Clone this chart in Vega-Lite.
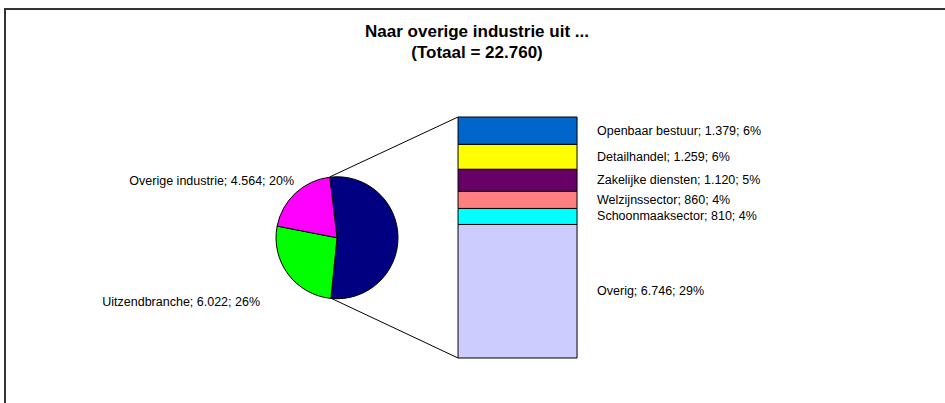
{
  "$schema": "https://vega.github.io/schema/vega-lite/v6.json",
  "width": 940,
  "height": 394,
  "autosize": "none",
  "padding": {"left": 5, "top": 9, "right": 0, "bottom": 0},
  "background": "white",
  "title": {
    "text": ["Naar overige industrie uit ...", "(Totaal = 22.760)"],
    "font": "Liberation Sans",
    "fontSize": 17,
    "fontWeight": "bold",
    "color": "#000000",
    "lineHeight": 21,
    "anchor": "middle",
    "frame": "group",
    "offset": 0,
    "dx": 2,
    "dy": 53
  },
  "config": {
    "view": {"stroke": "#333333", "strokeWidth": 2, "strokeDash": [940, 1334, 400]},
    "font": "Liberation Sans",
    "text": {"font": "Liberation Sans", "fontSize": 12.5, "color": "#000000"}
  },
  "datasets": {
    "taart": [
      {"nr": 1, "sector": "Overige sectoren", "aantal": 12174, "label": "Overige sectoren; 12.174; 53%"},
      {"nr": 2, "sector": "Uitzendbranche", "aantal": 6022, "label": "Uitzendbranche; 6.022; 26%"},
      {"nr": 3, "sector": "Overige industrie", "aantal": 4564, "label": "Overige industrie; 4.564; 20%"}
    ],
    "staaf": [
      {"nr": 1, "sector": "Overig", "aantal": 6746, "label": "Overig; 6.746; 29%"},
      {"nr": 2, "sector": "Schoonmaaksector", "aantal": 810, "label": "Schoonmaaksector; 810; 4%"},
      {"nr": 3, "sector": "Welzijnssector", "aantal": 860, "label": "Welzijnssector; 860; 4%"},
      {"nr": 4, "sector": "Zakelijke diensten", "aantal": 1120, "label": "Zakelijke diensten; 1.120; 5%"},
      {"nr": 5, "sector": "Detailhandel", "aantal": 1259, "label": "Detailhandel; 1.259; 6%"},
      {"nr": 6, "sector": "Openbaar bestuur", "aantal": 1379, "label": "Openbaar bestuur; 1.379; 6%"}
    ]
  },
  "layer": [
    {
      "data": {"values": [{}]},
      "mark": {"type": "rule", "color": "#000000", "strokeWidth": 1},
      "encoding": {
        "x": {"datum": -1.077, "type": "quantitative", "axis": null, "scale": {"domain": [-3.807, 4.092], "nice": false, "zero": false}},
        "y": {"datum": 9149, "type": "quantitative", "axis": null, "scale": {"domain": [-2273, 17630], "nice": false, "zero": false}},
        "x2": {"datum": 0},
        "y2": {"datum": 12174}
      }
    },
    {
      "data": {"values": [{}]},
      "mark": {"type": "rule", "color": "#000000", "strokeWidth": 1},
      "encoding": {
        "x": {"datum": -1.068, "type": "quantitative"},
        "y": {"datum": 3021, "type": "quantitative"},
        "x2": {"datum": 0},
        "y2": {"datum": 0}
      }
    },
    {
      "data": {"name": "taart"},
      "mark": {"type": "arc", "outerRadius": 61, "stroke": "#000000", "strokeWidth": 1},
      "encoding": {
        "x": {"datum": -1.017, "type": "quantitative"},
        "y": {"datum": 6075, "type": "quantitative"},
        "theta": {"field": "aantal", "type": "quantitative", "stack": true, "scale": {"range": [-0.1187, 6.1645]}},
        "order": {"field": "nr", "type": "quantitative"},
        "color": {
          "field": "sector", "type": "nominal", "legend": null,
          "scale": {
            "domain": ["Overige sectoren", "Uitzendbranche", "Overige industrie", "Overig", "Schoonmaaksector", "Welzijnssector", "Zakelijke diensten", "Detailhandel", "Openbaar bestuur"],
            "range": ["#000080", "#00FF00", "#FF00FF", "#CCCCFF", "#00FFFF", "#FF8080", "#660066", "#FFFF00", "#0066CC"]
          }
        }
      }
    },
    {
      "data": {"name": "staaf"},
      "transform": [
        {"stack": "aantal", "groupby": [], "sort": [{"field": "nr", "order": "ascending"}], "as": ["onder", "boven"]}
      ],
      "mark": {"type": "bar", "stroke": "#000000", "strokeWidth": 1},
      "encoding": {
        "x": {"datum": 0, "type": "quantitative"},
        "x2": {"datum": 1},
        "y": {"field": "onder", "type": "quantitative"},
        "y2": {"field": "boven"},
        "color": {"field": "sector", "type": "nominal", "legend": null}
      }
    },
    {
      "data": {"name": "staaf"},
      "mark": {"type": "text", "align": "left", "baseline": "middle", "dx": 20},
      "encoding": {
        "x": {"datum": 1, "type": "quantitative"},
        "y": {"field": "aantal", "type": "quantitative", "stack": "zero", "bandPosition": 0.5},
        "order": {"field": "nr", "type": "quantitative"},
        "text": {"field": "label"}
      }
    },
    {
      "data": {"name": "taart"},
      "transform": [{"filter": "datum.sector === 'Overige industrie'"}],
      "mark": {"type": "text", "align": "right", "baseline": "middle"},
      "encoding": {
        "x": {"datum": -1.378, "type": "quantitative"},
        "y": {"datum": 8941, "type": "quantitative"},
        "text": {"field": "label"}
      }
    },
    {
      "data": {"name": "taart"},
      "transform": [{"filter": "datum.sector === 'Uitzendbranche'"}],
      "mark": {"type": "text", "align": "right", "baseline": "middle"},
      "encoding": {
        "x": {"datum": -1.664, "type": "quantitative"},
        "y": {"datum": 2829, "type": "quantitative"},
        "text": {"field": "label"}
      }
    }
  ]
}
